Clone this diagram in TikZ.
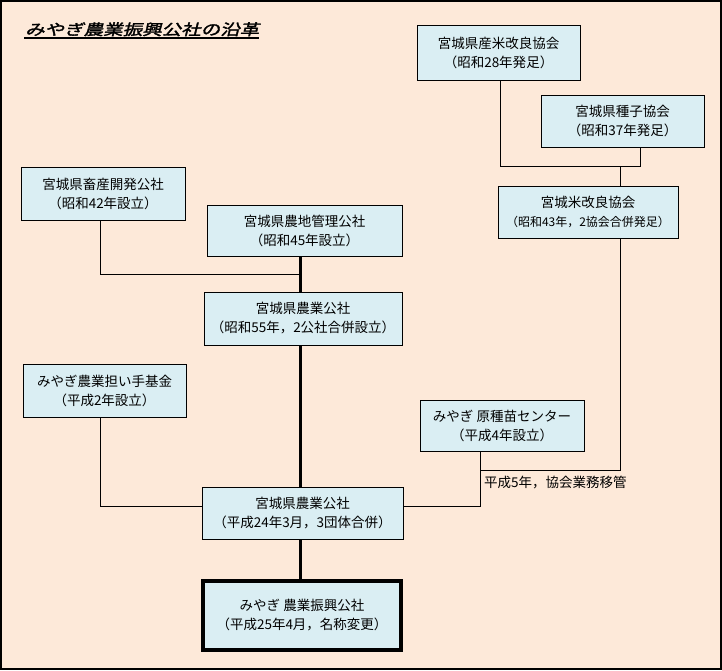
\documentclass[tikz,border=0pt]{standalone}
\usepackage{fontspec}
\setmainfont{Noto Sans CJK JP}
\newfontfamily\titlefont[FakeSlant=0.25,FakeBold=2,FakeStretch=1.3]{Noto Sans CJK JP}
\usetikzlibrary{calc}
\definecolor{bgc}{HTML}{FDE9D9}
\definecolor{boxc}{HTML}{DAEEF3}
\begin{document}
\begin{tikzpicture}[x=1pt,y=-1pt,
  box/.style={draw=black,line width=1pt,fill=boxc,inner sep=0pt,align=center,font=\fontsize{13.5}{19}\selectfont},
  finalbox/.style={box,line width=4pt},
  conn/.style={line width=1pt},
  trunk/.style={line width=3pt},
  lbl/.style={inner sep=0pt,font=\fontsize{13.5}{19}\selectfont}]
\useasboundingbox (0,0) rectangle (722,670);
\fill[bgc] (0,0) rectangle (722,670);
\draw[line width=2pt] (1,1) rectangle (721,669);

% title
\node[anchor=base west,inner sep=0pt,font=\titlefont\fontsize{15}{18}\selectfont] (T) at (25,35) {みやぎ農業振興公社の沿革};
\draw[line width=1.2pt] (24,38) -- (T.base east |- 0,38);

% boxes
\node[box,minimum width=163pt,minimum height=55pt] (A) at (498.5,52.5) {宮城県産米改良協会\\（昭和28年発足）};
\node[box,minimum width=163pt,minimum height=52pt] (B) at (622.5,121) {宮城県種子協会\\（昭和37年発足）};
\node[box,minimum width=180pt,minimum height=52pt] (C) at (588,212) {宮城米改良協会\\\fontsize{12}{17}\selectfont（昭和43年，2協会合併発足）};
\node[box,minimum width=164pt,minimum height=53pt] (D) at (103,193.5) {宮城県畜産開発公社\\（昭和42年設立）};
\node[box,minimum width=195pt,minimum height=51pt] (E) at (304.5,230.5) {宮城県農地管理公社\\（昭和45年設立）};
\node[box,minimum width=198pt,minimum height=53pt] (F) at (303,318.5) {宮城県農業公社\\（昭和55年，2公社合併設立）};
\node[box,minimum width=163pt,minimum height=53pt] (G) at (104.5,390.5) {みやぎ農業担い手基金\\（平成2年設立）};
\node[box,minimum width=164pt,minimum height=51pt] (H) at (502,425.5) {みやぎ 原種苗センター\\（平成4年設立）};
\node[box,minimum width=201pt,minimum height=52pt] (I) at (302.5,513) {宮城県農業公社\\（平成24年3月，3団体合併）};
\node[finalbox,minimum width=198pt,minimum height=69pt] (J) at (302,615.5) {みやぎ 農業振興公社\\（平成25年4月，名称変更）};

% junction coordinates
\coordinate (a1) at (500,166);
\coordinate (b1) at (640,166);
\coordinate (c0) at (620,166);
\coordinate (c1) at (620,470);
\coordinate (h1) at (480,470);
\coordinate (h2) at (480,506);
\coordinate (d1) at (100,274);
\coordinate (tr) at (300,274);
\coordinate (g1) at (100,506);

% connectors
\draw[conn] (A.south -| a1) -- (a1) -- (b1) -- (B.south -| b1);
\draw[conn] (c0) -- (C.north -| c0);
\draw[conn] (C.south -| c1) -- (c1) -- (h1);
\draw[conn] (H.south -| h2) -- (h2) -- (I.east |- h2);
\draw[conn] (D.south -| d1) -- (d1) -- (tr);
\draw[conn] (G.south -| g1) -- (g1) -- (I.west |- g1);
\draw[trunk] (E.south -| tr) -- (F.north -| tr);
\draw[trunk] (F.south -| tr) -- (I.north -| tr);
\draw[trunk] (I.south -| tr) -- (J.north -| tr);

% label
\node[lbl,anchor=base west] (L) at (484,487) {平成5年，協会業務移管};
\end{tikzpicture}
\end{document}
